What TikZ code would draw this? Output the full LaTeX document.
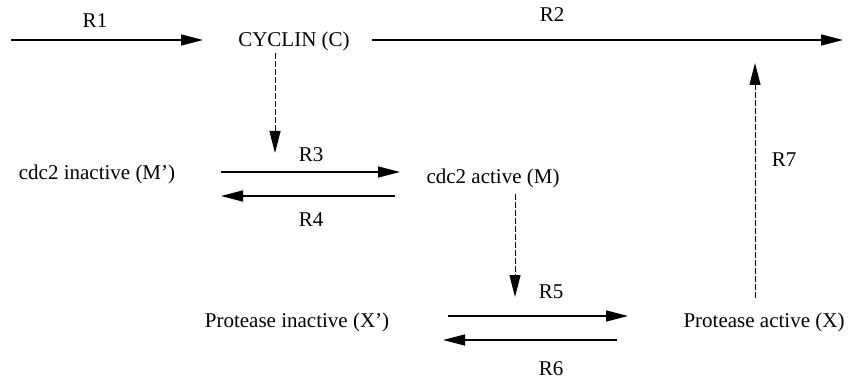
\documentclass[tikz,border=0pt]{standalone}
\usepackage{fontspec}
\setmainfont{Liberation Serif}
\usetikzlibrary{arrows.meta}
\tikzset{
  lbl/.style={inner sep=0pt, font=\fontsize{21}{25}\selectfont},
  arr/.style={line width=1.4pt, -{Triangle[length=22pt,width=11pt]}},
  darr/.style={line width=1pt, dash pattern=on 6pt off 2pt, -{Triangle[length=22pt,width=11pt]}}
}
\begin{document}
\begin{tikzpicture}[x=1pt,y=-1pt]
\useasboundingbox (0,0) rectangle (850,379);
% species
\node[lbl] (C)  at (294,41)  {CYCLIN (C)};
\node[lbl] (Mi) at (97,174)  {cdc2 inactive (M’)};
\node[lbl] (Ma) at (493,178) {cdc2 active (M)};
\node[lbl] (Xi) at (297,322) {Protease inactive (X’)};
\node[lbl] (Xa) at (764,322) {Protease active (X)};
% free ends / reaction points
\coordinate (r1s) at (11,40);
\coordinate (r1e) at (203,40);
\coordinate (r2s) at (372,40);
\coordinate (r2e) at (843,40);
\coordinate (r3s) at (221,172);
\coordinate (r3e) at (400,172);
\coordinate (r4s) at (395,196);
\coordinate (r4e) at (221,196);
\coordinate (r5s) at (448,316);
\coordinate (r5e) at (628,316);
\coordinate (r6s) at (617,340);
\coordinate (r6e) at (443,340);
\coordinate (cat3) at (275,153);
\coordinate (cat5) at (515,297);
\coordinate (cat7) at (755,63);
% reactions
\draw[arr] (r1s) -- (r1e);
\draw[arr] (r2s) -- (r2e);
\draw[arr] (r3s) -- (r3e);
\draw[arr] (r4s) -- (r4e);
\draw[arr] (r5s) -- (r5e);
\draw[arr] (r6s) -- (r6e);
% regulation (dashed)
\draw[darr] (C.south -| cat3) ++(0,2) -- (cat3);
\draw[darr] (Ma.south -| cat5) ++(0,6) -- (cat5);
\draw[darr] (Xa.north -| cat7) ++(0,-14) -- (cat7);
% labels
\node[lbl] (L1) at (95,21)  {R1};
\node[lbl] (L2) at (552,15) {R2};
\node[lbl] (L3) at (311,155) {R3};
\node[lbl] (L4) at (311,220) {R4};
\node[lbl] (L5) at (551,292) {R5};
\node[lbl] (L6) at (551,369) {R6};
\node[lbl] (L7) at (784,160) {R7};
\end{tikzpicture}
\end{document}
